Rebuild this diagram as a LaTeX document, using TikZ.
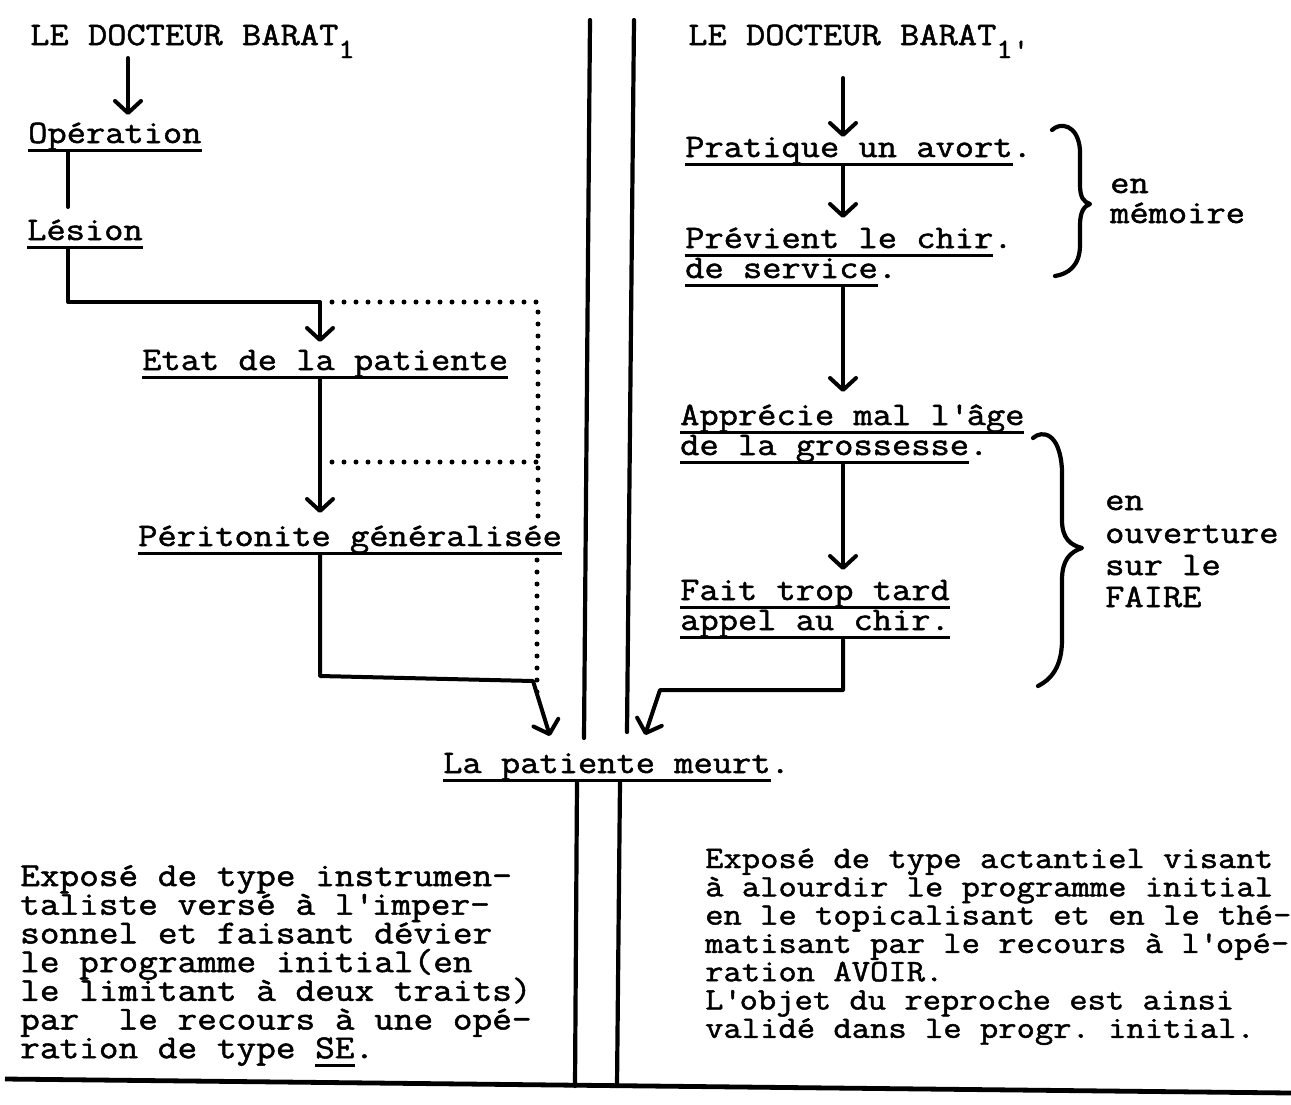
\documentclass[tikz,border=0pt]{standalone}
\usepackage{fontspec}
\setmonofont{Latin Modern Mono}[FakeBold=1.5,FakeStretch=1.14]
\usetikzlibrary{arrows.meta}
\newcommand\ap{\textquotesingle}
\newcommand\ulx[1]{\setbox0=\hbox{#1}\rlap{\rule[-8.5pt]{\wd0}{2.8pt}}\box0}
\tikzset{
 txt/.style={anchor=base west, inner sep=0pt, font=\ttfamily\fontsize{32.8}{30}\selectfont},
 ptxt/.style={anchor=base west, inner sep=0pt, font=\ttfamily\fontsize{33.5}{28}\selectfont},
 rtxt/.style={anchor=base west, inner sep=0pt, font=\ttfamily\fontsize{31.2}{28}\selectfont},
 ln/.style={line width=4pt, line cap=round, line join=round},
 arr/.style={ln, -{Straight Barb[length=12pt,width=26pt,round]}},
 dots/.style={line width=5pt, line cap=round, dash pattern=on 0pt off 12pt},
 sep/.style={line width=4.2pt, line cap=round},
 brace/.style={line width=4.2pt, line cap=round, line join=round},
}
\begin{document}
\begin{tikzpicture}[x=1pt,y=-1pt]
\useasboundingbox[fill=white] (0,0) rectangle (1291,1104);

% ---- left column
\node[txt] (tl) at (30,45) {LE DOCTEUR BARAT\raisebox{-13pt}{\fontsize{28}{28}\selectfont 1}};
\node[txt] (op) at (28,143) {\ulx{Opération}};
\node[txt] (les) at (27,240) {\ulx{Lésion}};
\node[txt] (etat) at (142,370) {\ulx{Etat de la patiente}};
\node[txt] (per) at (138,546) {\ulx{Péritonite généralisée}};
\node[txt] (meurt) at (443,773) {\ulx{La patiente meurt}.};

\coordinate (j1) at (320,302);
\coordinate (j2) at (320,462);
\coordinate (d0) at (538,518);
\coordinate (d2) at (537,560);
\coordinate (d1) at (537,700);
\coordinate (j3) at (320,676);
\coordinate (j4) at (533,681);

\draw[arr] ([shift={(98,13)}]tl.base west) -- ([shift={(100,-28)}]op.base west);
\draw[ln] ([shift={(40,9)}]op.base west) -- ([shift={(41,-33)}]les.base west);
\draw[arr] ([shift={(41,9)}]les.base west) |- (j1) -- ([shift={(178,-28)}]etat.base west);
\draw[dots] ([xshift=12pt]j1) -| (d0);
\draw[dots] (d2) -- (d1);
\draw[dots] ([xshift=12pt]j2) -- (j2 -| d0);
\draw[arr] ([shift={(178,8)}]etat.base west) -- ([shift={(182,-33)}]per.base west);
\draw[arr] ([shift={(182,8)}]per.base west) -- (j3) -- (j4) -- ([shift={(107,-37)}]meurt.base west);

% ---- right column
\node[txt] (tr) at (688,45) {LE DOCTEUR BARAT\raisebox{-13pt}{\fontsize{28}{28}\selectfont 1\ap}};
\node[txt] (prat) at (685,157) {\ulx{Pratique un avort}.};
\node[txt] (prevA) at (685,248) {\ulx{Prévient le chir}.};
\node[txt] (prevB) at (685,278) {\ulx{de service}.};
\node[txt] (appA) at (680,425) {\ulx{Apprécie mal l\ap âge}};
\node[txt] (appB) at (680,455) {\ulx{de la grossesse}.};
\node[txt] (faitA) at (680,600) {\ulx{Fait trop tard}};
\node[txt] (faitB) at (680,630) {\ulx{appel au chir.}};

\coordinate (j5) at (843,690);
\coordinate (j6) at (660,690);

\draw[arr] ([shift={(155,33)}]tr.base west) -- ([shift={(158,-20)}]prat.base west);
\draw[arr] ([shift={(158,9)}]prat.base west) -- ([shift={(158,-30)}]prevA.base west);
\draw[arr] ([shift={(158,10)}]prevB.base west) -- ([shift={(163,-33)}]appA.base west);
\draw[arr] ([shift={(163,10)}]appB.base west) -- ([shift={(163,-30)}]faitA.base west);
\draw[arr] ([shift={(163,10)}]faitB.base west) -- (j5) -- (j6) -- ([shift={(202,-38)}]meurt.base west);

% braces and labels
\draw[brace] (1052,130) .. controls (1060,122) and (1078,124) .. (1080,150) -- (1080,185)
  .. controls (1080,198) and (1084,202) .. (1090,204)
  .. controls (1084,206) and (1080,212) .. (1080,225) -- (1080,245)
  .. controls (1080,266) and (1068,274) .. (1055,276);
\node[txt] (memA) at (1110,193) {en};
\node[txt] (memB) at (1110,223) {mémoire};

\draw[brace] (1033,438) .. controls (1042,430) and (1060,432) .. (1062,470) -- (1062,520)
  .. controls (1062,538) and (1070,545) .. (1082,548)
  .. controls (1070,552) and (1062,560) .. (1062,580) -- (1062,640)
  .. controls (1062,668) and (1050,680) .. (1038,686);
\node[txt] (ouvA) at (1105,510) {en};
\node[txt] (ouvB) at (1105,543) {ouverture};
\node[txt] (ouvC) at (1105,575) {sur le};
\node[txt] (ouvD) at (1105,607) {FAIRE};

% ---- separator double lines
\draw[sep] (590,20) -- (584,738);
\draw[sep] (634,20) -- (627,732);
\draw[sep] (577,782) -- (575,1086);
\draw[sep] (620,782) -- (617,1086);

% ---- bottom paragraphs
\foreach \t [count=\i] in {Exposé de type instrumen-,taliste versé à l\ap imper-,sonnel et faisant dévier,le programme initial(en,le limitant à deux traits),par\ \ le recours à une opé-,ration de type \ulx{SE}.}
  \node[ptxt] (pl\i) at (20,{886+28.7*(\i-1)}) {\t};

\foreach \t [count=\i] in {Exposé de type actantiel visant,à alourdir le programme initial,en le topicalisant et en le thé-,matisant par le recours à l\ap opé-,ration AVOIR.,L\ap objet du reproche est ainsi,validé dans le progr. initial.}
  \node[rtxt] (pr\i) at (705,{868+28.3*(\i-1)}) {\t};

% bottom rule
\draw[line width=4.8pt] (5,1079) -- (1291,1093);
\end{tikzpicture}
\end{document}
